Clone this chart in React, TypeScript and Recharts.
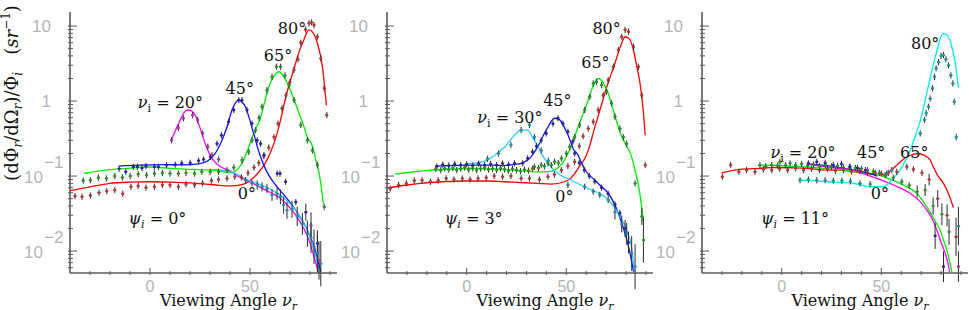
import React from 'react';
import { ComposedChart, Line, Scatter, XAxis, YAxis, ErrorBar } from 'recharts';

// [viewing angle, value] for curves, [viewing angle, value, rel. error] for measured points

// psi_i = 0
const p1RedLine = [[-41, 0.063], [-30, 0.072], [-20, 0.08], [-10, 0.083], [0, 0.084], [10, 0.083], [20, 0.081], [28, 0.078], [33, 0.076], [40, 0.074], [46, 0.077], [50, 0.087], [54, 0.11], [57, 0.14], [60, 0.2], [63, 0.33], [65.3, 0.56], [67, 0.9], [69.4, 1.6], [72, 2.7], [74.4, 4.4], [77, 6.6], [79.4, 8.9], [81.5, 8.2], [83.7, 5.9], [86.2, 2.9], [88.2, 0.88]];
const p1RedPts = [[-37.5, 0.054], [-34, 0.053], [-29.8, 0.055], [-25.5, 0.06], [-21.6, 0.063], [-17.6, 0.065], [-13.6, 0.058], [-9.5, 0.072], [-5.9, 0.074], [-2, 0.07], [2.2, 0.072], [6.2, 0.076], [10, 0.076], [14.2, 0.072], [18, 0.078], [22.3, 0.076], [26.3, 0.08], [30.7, 0.087], [34.3, 0.09], [38.5, 0.093], [42.4, 0.098], [45.7, 0.096], [49, 0.11], [52, 0.13], [54.4, 0.15], [56.9, 0.185], [59.4, 0.24], [62, 0.33], [64, 0.5], [66, 0.8], [68, 1.2], [70, 1.8], [72, 2.6], [74, 3.6], [75.4, 6], [77.8, 9], [79.5, 10.9], [80.8, 11.2], [82, 10.3], [83.7, 7.2], [85.4, 3.7], [87.1, 1.48], [88.4, 0.65]];
const p1GreenLine = [[-33, 0.109], [-20, 0.122], [-10, 0.128], [0, 0.132], [10, 0.127], [20, 0.123], [30, 0.12], [36, 0.115], [40, 0.11], [43, 0.118], [46, 0.148], [49.4, 0.246], [52, 0.38], [55.3, 0.6], [57, 0.9], [59.4, 1.55], [62, 2.15], [64.5, 2.46], [67, 2.1], [69.5, 1.55], [72, 1.05], [74.5, 0.69], [76.5, 0.5], [78.7, 0.33], [81.2, 0.25], [83, 0.16], [84.6, 0.108], [86.7, 0.043]];
const p1GreenPts = [[-33.4, 0.087], [-29.8, 0.088], [-25.8, 0.095], [-21.8, 0.093], [-17.6, 0.1], [-13.8, 0.096], [-9.9, 0.1], [-5.9, 0.106], [-1.7, 0.103], [2.2, 0.108], [6.2, 0.11], [10, 0.108], [14.2, 0.108], [18, 0.11], [22.3, 0.108], [25.9, 0.114], [30.1, 0.114], [34.3, 0.114], [38.5, 0.12], [41.9, 0.13], [46, 0.163], [49.4, 0.21], [51, 0.3], [52.8, 0.41], [54.5, 0.6], [56, 0.84], [58.5, 1.4], [61, 2.1], [63.2, 2.87], [65.3, 2.87], [67.5, 2.2], [69.5, 1.63], [72, 1.03], [75.4, 0.48], [78.7, 0.3], [81.2, 0.22], [83.7, 0.14], [87.1, 0.039]];
const p1BlueLine = [[-15.6, 0.136], [-5, 0.14], [7.5, 0.142], [15.9, 0.141], [24.3, 0.145], [29.3, 0.163], [32.6, 0.2], [36, 0.3], [38.5, 0.45], [41, 0.76], [43, 0.97], [44.4, 1.03], [46, 0.97], [47.7, 0.84], [49.4, 0.62], [51, 0.44], [52.5, 0.32], [54, 0.23], [56, 0.16], [58, 0.12], [62.8, 0.076], [67.8, 0.053], [72.9, 0.035], [77.9, 0.021], [82.1, 0.0114], [85.4, 0.0053]];
const p1BluePts = [[-15.4, 0.125], [-12.1, 0.114], [-8.3, 0.133], [-6.3, 0.133], [-4, 0.128], [-2, 0.136], [2.2, 0.133], [4.2, 0.133], [8.3, 0.14], [12.6, 0.142], [15.9, 0.148], [20.1, 0.15], [24.3, 0.16], [26.8, 0.167], [30.2, 0.18], [33.5, 0.27], [35.7, 0.35], [39.3, 0.53], [41.9, 0.76], [44.4, 1.03], [46, 1.03], [48.5, 0.76], [51, 0.5], [53.6, 0.3], [55.3, 0.27], [57, 0.19], [63.6, 0.108], [65, 0.108], [67.8, 0.084], [72.9, 0.045], [77.9, 0.033, 0.3], [83.7, 0.0126, 0.5]];
const p1MagLine = [[10.8, 0.31], [13, 0.42], [15.1, 0.56], [17, 0.7], [19.2, 0.76], [21, 0.73], [22.6, 0.65], [24.3, 0.5], [25.9, 0.37], [27.6, 0.27], [29.3, 0.21], [31, 0.172], [35.2, 0.133], [39.3, 0.12], [44.4, 0.098], [49.4, 0.085], [57.8, 0.065], [66.1, 0.048], [74.5, 0.026], [79.5, 0.014], [82.9, 0.0069], [84.5, 0.0048]];
const p1MagPts = [[10.8, 0.3], [14.2, 0.44], [16.7, 0.59], [21.3, 0.65], [23.8, 0.56], [26.3, 0.37], [28.9, 0.246], [31, 0.19], [34.3, 0.167], [80.5, 0.022, 0.5], [84.5, 0.0075, 0.8]];
const p1CyanLine = [[30.2, 0.123], [36, 0.12], [42.7, 0.108], [49.4, 0.088], [57.8, 0.072], [66.1, 0.053], [72.9, 0.035], [77.9, 0.021], [81.2, 0.0126], [83.7, 0.0069], [85, 0.0048]];
const p1CyanPts = [[47.7, 0.088], [51, 0.08], [53.6, 0.076, 0.15], [56, 0.072, 0.15], [58.5, 0.068, 0.15], [61, 0.056, 0.2], [63.5, 0.058, 0.2], [65.2, 0.053, 0.25], [66.8, 0.041, 0.3], [68.5, 0.035, 0.3], [71, 0.036, 0.3], [73.6, 0.029, 0.35], [76.2, 0.023, 0.4], [78.7, 0.017, 0.5], [80.5, 0.015, 0.6], [82, 0.0114, 0.7], [83.7, 0.0093, 0.8], [85.4, 0.0068, 1]];
const p1Notes = [[71, 9.4, '', '80°'], [64, 4.1, '', '65°'], [44.9, 1.49, '', '45°'], [10.2, 0.97, 'ν', '20°'], [48.4, 0.059, '', '0°'], [3.7, 0.0275, 'ψ', '0°']];

// psi_i = 3
const p2RedLine = [[-40, 0.069], [-30, 0.076], [-23.2, 0.08], [-12, 0.084], [-1.4, 0.086], [10, 0.086], [18.8, 0.084], [27, 0.082], [35.7, 0.08], [42.4, 0.078], [49.1, 0.084], [51.5, 0.09], [54.2, 0.108], [57, 0.14], [59.2, 0.17], [61, 0.22], [64.3, 0.45], [66.5, 0.7], [69.3, 1.27], [72, 2.1], [74.4, 3.2], [77, 5.2], [79.5, 7.2], [81.5, 6.8], [83.7, 4.8], [85.5, 2.8], [87, 1.72], [88.5, 0.8], [89.6, 0.35]];
const p2RedPts = [[-38.4, 0.068], [-34.2, 0.076], [-30.3, 0.08], [-26.3, 0.087], [-22.4, 0.088], [-18.2, 0.084], [-14.3, 0.088], [-10.3, 0.093], [-6.4, 0.09], [-2.2, 0.093], [1.7, 0.09], [5.7, 0.093], [9.8, 0.095], [13.8, 0.1], [18, 0.098], [22.2, 0.1], [27.3, 0.093], [31.5, 0.093], [36.5, 0.09], [40.8, 0.098], [44, 0.105], [47.5, 0.12], [50.8, 0.136], [54.2, 0.155], [56.5, 0.25], [58.4, 0.34], [61, 0.43], [63.5, 0.53], [66, 0.76], [68.5, 1.2], [71, 1.9], [73.6, 2.87], [76.1, 4.8], [77.8, 7.2], [79.5, 8.9], [81.2, 8.4], [83.7, 5.3], [86.2, 2.87], [87.9, 1.2], [89.6, 0.14]];
const p2GreenLine = [[-35.9, 0.106], [-25, 0.115], [-18.2, 0.12], [-8, 0.124], [2, 0.127], [10, 0.125], [18.8, 0.123], [27, 0.118], [35.7, 0.114], [40, 0.114], [44, 0.12], [47, 0.138], [49.1, 0.163], [50.8, 0.2], [52.5, 0.25], [55.9, 0.45], [58.5, 0.68], [61, 1.03], [63.5, 1.6], [66, 2.0], [68.5, 1.75], [71, 1.27], [73, 0.85], [75, 0.56], [78, 0.33], [80.3, 0.25], [82.5, 0.19], [84.5, 0.12], [86.2, 0.075], [87.5, 0.045], [88.7, 0.024]];
const p2GreenPts = [[-15.5, 0.124], [-13, 0.12], [-11, 0.126], [-9, 0.122], [-7, 0.128], [-5, 0.12], [-3, 0.125], [-1, 0.13], [1, 0.122], [3, 0.127], [5, 0.12], [7, 0.126], [9, 0.13], [11, 0.122], [13, 0.125], [15, 0.12], [17, 0.127], [19, 0.123], [21, 0.118], [23, 0.125], [25, 0.12], [27, 0.116], [29, 0.122], [31, 0.118], [33, 0.125], [34, 0.133], [36, 0.128], [37.4, 0.14], [39, 0.135], [40.8, 0.148], [42.5, 0.14], [44.1, 0.155], [46, 0.15], [47.5, 0.172], [50, 0.2], [51.7, 0.246], [54.2, 0.33], [56.7, 0.48], [59.2, 0.76], [61.8, 1.14], [63.5, 1.72], [65.2, 1.8], [67.7, 1.63], [70.2, 1.33], [72.7, 0.93], [74.4, 0.62], [76.9, 0.43], [78.6, 0.33], [80.3, 0.27], [84.5, 0.08], [87.9, 0.029, 0.3], [88.7, 0.014, 1]];
const p2BlueLine = [[-15.7, 0.136], [-5, 0.139], [2, 0.14], [13.8, 0.14], [18.8, 0.138], [24, 0.143], [27.3, 0.148], [30, 0.16], [32.3, 0.18], [34.5, 0.22], [36.5, 0.27], [38.5, 0.35], [40.8, 0.45], [42.5, 0.54], [44.1, 0.59], [46, 0.58], [47.5, 0.53], [49.5, 0.42], [51.7, 0.31], [53.5, 0.23], [55.9, 0.19], [57.6, 0.15], [60, 0.115], [64.3, 0.088], [67.5, 0.073], [71, 0.059], [76.1, 0.032], [79.5, 0.017], [82, 0.0093], [83.7, 0.0053]];
const p2BluePts = [[-15, 0.135], [-12, 0.142], [-9, 0.138], [-6, 0.145], [-3, 0.14], [0, 0.144], [3, 0.138], [6, 0.146], [9, 0.14], [12, 0.145], [15, 0.14], [18, 0.147], [21, 0.142], [24, 0.148], [28.1, 0.148], [30.6, 0.172], [33, 0.21], [35, 0.25], [37.4, 0.3], [39.9, 0.37], [43.3, 0.5], [45.8, 0.59], [48.3, 0.5], [50.8, 0.39], [53.3, 0.29], [54.2, 0.2], [56.5, 0.15], [59, 0.12], [61.5, 0.1], [64.3, 0.085], [67.7, 0.07], [71, 0.058], [74.4, 0.042], [76.9, 0.032], [79.5, 0.02, 0.3], [81.2, 0.013, 0.4]];
const p2CyanLine = [[0, 0.145], [5, 0.15], [10.4, 0.163], [14, 0.19], [18.8, 0.24], [23.1, 0.33], [27.3, 0.41], [30.6, 0.41], [33, 0.33], [35.7, 0.25], [38, 0.19], [40.8, 0.148], [45.8, 0.108], [52.5, 0.088], [61, 0.068], [69.3, 0.053], [76.1, 0.032], [80.3, 0.019], [82.8, 0.011], [84.3, 0.005]];
const p2CyanPts = [[10.4, 0.17], [16, 0.2], [22.2, 0.26], [27.3, 0.41], [31.5, 0.48], [34, 0.33], [37.4, 0.22], [41, 0.16], [50.8, 0.076], [59.2, 0.072], [63.5, 0.062], [66.8, 0.056], [71, 0.048], [74.4, 0.033, 0.25], [77.8, 0.023, 0.3], [80.3, 0.017, 0.4], [82.8, 0.0093, 0.7], [84.5, 0.0062, 1]];
const p2Notes = [[70.2, 9.4, '', '80°'], [64.6, 3.3, '', '65°'], [45.5, 1.03, '', '45°'], [21.7, 0.61, 'ν', '30°'], [49, 0.054, '', '0°'], [3.5, 0.0275, 'ψ', '3°']];

// psi_i = 11
const p3CyanLine = [[9.2, 0.088], [15, 0.087], [22.6, 0.084], [30, 0.082], [36, 0.08], [44.4, 0.072], [51.1, 0.072], [54.4, 0.084], [57, 0.1], [59.4, 0.12], [62, 0.16], [64.5, 0.22], [67.5, 0.37], [70, 0.6], [72, 1.03], [75, 2.3], [78, 4.8], [81, 8], [83, 7.6], [85.4, 5.3], [87.1, 3.2], [88.7, 1.5]];
const p3CyanPts = [[9.2, 0.088], [13.4, 0.09], [17.6, 0.088], [21.8, 0.088], [25.9, 0.087], [30.2, 0.087], [34.5, 0.085], [39.3, 0.08], [44.4, 0.078], [52.7, 0.108], [55.3, 0.12], [69.5, 0.37], [71.7, 0.56], [72.5, 0.69], [73.7, 0.84], [74.5, 1.08], [75.7, 1.48], [76.7, 2.1], [77.5, 2.73], [78.7, 3.3], [80, 4], [81.2, 4.1], [82.4, 3.6], [83.7, 3], [84.9, 2.2], [85.9, 1.72], [86.6, 0.98], [87.6, 0.33], [88.7, 0.0215, 0.8]];
const p3RedLine = [[-30.2, 0.11], [-21, 0.123], [-10.9, 0.127], [-4.2, 0.13], [5, 0.129], [12.6, 0.127], [22.6, 0.12], [29.3, 0.12], [38, 0.112], [46, 0.106], [50, 0.104], [52.8, 0.108], [55, 0.12], [57.8, 0.14], [60.5, 0.163], [62.8, 0.18], [66, 0.195], [68.5, 0.2], [71.2, 0.19], [74.5, 0.163], [76.2, 0.13], [78.5, 0.1], [81.2, 0.08], [83.5, 0.06], [86.2, 0.038]];
const p3RedPts = [[-29.8, 0.098], [-25.6, 0.14], [-21.5, 0.114], [-17.6, 0.12], [-13.4, 0.114], [-9.2, 0.123], [-5, 0.12], [-1, 0.125], [3, 0.12], [7, 0.127], [11, 0.12], [15, 0.125], [19, 0.12], [23, 0.124], [27, 0.118], [31, 0.12], [35, 0.115], [39, 0.118], [43, 0.112], [47, 0.11], [50, 0.108], [53.5, 0.11], [57.8, 0.114], [62.8, 0.133], [66.1, 0.123], [70.4, 0.11], [74, 0.09, 0.2], [78.3, 0.05, 0.3], [83, 0.03, 0.4], [87.5, 0.0155, 0.8]];
const p3GreenLine = [[-11.8, 0.14], [-5, 0.139], [4.2, 0.136], [12, 0.132], [20.9, 0.127], [30, 0.12], [37.7, 0.114], [44, 0.108], [49.4, 0.103], [54, 0.092], [59.4, 0.08], [63.5, 0.07], [67.8, 0.059], [71, 0.046], [74.5, 0.033], [77, 0.025], [79.5, 0.019], [81.2, 0.014], [82.9, 0.0103], [84.2, 0.0075], [85.4, 0.0053]];
const p3GreenPts = [[-10.9, 0.14], [-8, 0.135], [-5, 0.14], [-2, 0.138], [-0.9, 0.155], [2, 0.14], [4.2, 0.148], [7, 0.14], [10, 0.145], [13, 0.138], [16, 0.142], [19, 0.136], [22, 0.14], [25, 0.134], [28, 0.137], [31, 0.13], [34, 0.132], [37, 0.128], [40, 0.125], [43, 0.12], [46, 0.115], [49, 0.11], [51.9, 0.103], [56, 0.095], [60.3, 0.084], [64, 0.075], [68, 0.062, 0.2], [72, 0.065, 0.2], [76, 0.04, 0.3], [80.4, 0.031, 0.4], [84, 0.018, 0.5]];
const p3BlueLine = [[13.4, 0.145], [20, 0.14], [25, 0.135], [31, 0.127], [38, 0.118], [44.4, 0.108], [48, 0.1]];
const p3BluePts = [[13.4, 0.148], [17.6, 0.155], [21.8, 0.15], [25.9, 0.14], [30, 0.145], [34.3, 0.133], [38, 0.128], [42, 0.12], [77, 0.016, 0.5], [81.2, 0.0062, 0.6]];
const p3MagLine = [[13.4, 0.143], [25, 0.13], [36, 0.12], [42, 0.105], [47.7, 0.093], [56.1, 0.076], [64.4, 0.059], [69, 0.047], [72.9, 0.035], [75.5, 0.027], [77.9, 0.019], [80, 0.013], [82.1, 0.0093], [83.5, 0.0068], [84.3, 0.0052]];
const p3MagPts = [[88.7, 0.0062, 0.6]];
const p3Notes = [[72, 5.9, '', '80°'], [10.7, 0.209, 'ν', '20°'], [44.9, 0.209, '', '45°'], [66.5, 0.209, '', '65°'], [49.3, 0.059, '', '0°'], [6.7, 0.0275, 'ψ', '11°']];

const xTicks = [-30, -20, -10, 0, 10, 20, 30, 40, 50, 60, 70, 80, 90];
const xLabeled = [0, 50];
const yTicks = [0.006, 0.007, 0.008, 0.009, 0.01, 0.02, 0.03, 0.04, 0.05, 0.06, 0.07, 0.08, 0.09, 0.1, 0.2, 0.3, 0.4, 0.5, 0.6, 0.7, 0.8, 0.9, 1, 2, 3, 4, 5, 6, 7, 8, 9, 10];
const yLabeled = [0.01, 0.1, 1, 10];

const X_DOMAIN = [-40, 93.5];
const Y_DOMAIN = [0.0051, 15.4];
const SERIF = "'DejaVu Serif', serif";
const SANS = "'Liberation Sans', Arial, sans-serif";
const FRAME = '#5a5a5a';
const TICK_TXT = '#b4b4b4';

const RED = '#ff0000';
const GREEN = '#00ee00';
const BLUE = '#1010ff';
const MAGENTA = '#ff00ff';
const SKY = '#30ccff';
const CYAN = '#00eeee';

const serifStyle = { fontFamily: SERIF };

const toLine = (arr) => arr.map(([x, y]) => ({ x, y }));
const toPts = (arr) =>
  arr.map(([x, y, r = 0.1]) => ({ x, y, ey: [y - y / (1 + r), y * r], ex: 0.8 }));
const toNotes = (arr) => arr.map(([x, y, sym, t]) => ({ x, y, sym, t }));

function YTick(props) {
  const { x, y, payload } = props;
  const v = payload.value;
  const major = yLabeled.includes(v);
  const exp = Math.round(Math.log10(v));
  const txt = { fontSize: 17, fill: TICK_TXT, style: { fontFamily: SANS } };
  return (
    <g>
      <line x1={x} x2={x + (major ? 9 : 5)} y1={y} y2={y} stroke={FRAME} strokeWidth={1} />
      {major && exp >= 0 && (
        <text x={x - 17} y={y + 6} textAnchor="end" {...txt}>{v}</text>
      )}
      {major && exp < 0 && (
        <g>
          <text x={x - 25} y={y + 7} textAnchor="end" {...txt}>10</text>
          <text x={x - 24} y={y - 8} textAnchor="start" {...txt}>{'\u2212' + -exp}</text>
        </g>
      )}
    </g>
  );
}

function XTick(props) {
  const { x, y, payload } = props;
  const major = xLabeled.includes(payload.value);
  return (
    <g>
      <line x1={x} x2={x} y1={y} y2={y - (major ? 7 : 4)} stroke={FRAME} strokeWidth={1} />
      {major && (
        <text x={x} y={y + 17} textAnchor="middle" fontSize={16} fill={TICK_TXT} style={{ fontFamily: SANS }}>
          {payload.value}
        </text>
      )}
    </g>
  );
}

function XTitle(props) {
  const vb = props.viewBox || {};
  return (
    <text x={vb.x + vb.width / 2 + 25} y={vb.y + 33} textAnchor="middle" fontSize={16} fill="#111" style={serifStyle}>
      Viewing Angle <tspan fontStyle="italic">ν</tspan>
      <tspan fontStyle="italic" fontSize={11} dy={4}>r</tspan>
    </text>
  );
}

function YTitle(props) {
  const vb = props.viewBox || {};
  const cx = vb.x + 18;
  const cy = 93;
  return (
    <text x={cx} y={cy} transform={`rotate(-90 ${cx} ${cy})`} textAnchor="middle" fontSize={18} fill="#111" style={serifStyle}>
      (dΦ<tspan fontStyle="italic" fontSize={12} dy={4}>r</tspan>
      <tspan dy={-4}>/dΩ</tspan>
      <tspan fontStyle="italic" fontSize={12} dy={4}>r</tspan>
      <tspan dy={-4}>)/Φ</tspan>
      <tspan fontStyle="italic" fontSize={12} dy={4}>i</tspan>
      <tspan dy={-4}>{'\u00a0\u00a0\u00a0('}</tspan>
      <tspan fontStyle="italic">sr</tspan>
      <tspan fontSize={12} dy={-8}>{'\u22121'}</tspan>
      <tspan dy={8}>)</tspan>
    </text>
  );
}

function NoteShape(props) {
  const { cx, cy, payload } = props;
  const base = { x: cx, y: cy + 6, textAnchor: 'middle', fontSize: 16, fill: '#111', style: serifStyle };
  if (!payload.sym) return <text {...base}>{payload.t}</text>;
  const subItalic = payload.sym === 'ψ';
  return (
    <text {...base}>
      <tspan fontStyle="italic">{payload.sym}</tspan>
      <tspan fontSize={11} dy={4} fontStyle={subItalic ? 'italic' : 'normal'}>i</tspan>
      <tspan dy={-4}>{' = ' + payload.t}</tspan>
    </text>
  );
}

function Panel({ left, width, yW, right, series, notes, yTitle }) {
  return (
    <div style={{ position: 'absolute', left, top: 0 }}>
      <ComposedChart width={width} height={310} margin={{ top: 12, right, bottom: 0, left: 0 }}>
        <XAxis
          xAxisId="b"
          type="number"
          dataKey="x"
          domain={X_DOMAIN}
          allowDataOverflow
          ticks={xTicks}
          interval={0}
          tick={<XTick />}
          tickSize={0}
          tickLine={false}
          height={37}
          axisLine={{ stroke: FRAME, strokeWidth: 1.6 }}
          label={XTitle}
        />
        <XAxis
          xAxisId="t"
          orientation="top"
          type="number"
          domain={X_DOMAIN}
          allowDataOverflow
          tick={false}
          tickLine={false}
          height={0}
          axisLine={{ stroke: FRAME, strokeWidth: 1.6 }}
        />
        <YAxis
          yAxisId="l"
          type="number"
          scale="log"
          domain={Y_DOMAIN}
          allowDataOverflow
          ticks={yTicks}
          interval={0}
          tick={<YTick />}
          tickSize={0}
          tickLine={false}
          width={yW}
          axisLine={{ stroke: FRAME, strokeWidth: 1.6 }}
          label={yTitle ? YTitle : undefined}
        />
        <YAxis
          yAxisId="r"
          orientation="right"
          type="number"
          domain={[0, 1]}
          tick={false}
          tickLine={false}
          width={0}
          axisLine={{ stroke: FRAME, strokeWidth: 1.6 }}
        />
        {series.map((s, i) => (
          <Line
            key={'l' + i}
            xAxisId="b"
            yAxisId="l"
            data={toLine(s.line)}
            dataKey="y"
            type="monotone"
            stroke={s.color}
            strokeWidth={1.3}
            dot={false}
            isAnimationActive={false}
          />
        ))}
        {series.map((s, i) => (
          <Scatter
            key={'p' + i}
            xAxisId="b"
            yAxisId="l"
            data={toPts(s.pts)}
            dataKey="y"
            fill={s.dot}
            isAnimationActive={false}
            shape={(p) => <rect x={p.cx - 1.2} y={p.cy - 1.2} width={2.4} height={2.4} fill={s.dot} />}
          >
            <ErrorBar dataKey="ey" direction="y" width={0} stroke="#2a2a2a" strokeWidth={1} isAnimationActive={false} />
            <ErrorBar dataKey="ex" direction="x" width={0} stroke="#2a2a2a" strokeWidth={1} isAnimationActive={false} />
          </Scatter>
        ))}
        <Scatter xAxisId="b" yAxisId="l" data={toNotes(notes)} dataKey="y" shape={NoteShape} isAnimationActive={false} />
      </ComposedChart>
    </div>
  );
}

const panel1 = [
  { color: RED, dot: '#c03030', line: p1RedLine, pts: p1RedPts },
  { color: GREEN, dot: '#209a20', line: p1GreenLine, pts: p1GreenPts },
  { color: BLUE, dot: '#2020b0', line: p1BlueLine, pts: p1BluePts },
  { color: MAGENTA, dot: '#b030b0', line: p1MagLine, pts: p1MagPts },
  { color: SKY, dot: '#2090b0', line: p1CyanLine, pts: p1CyanPts },
];
const panel2 = [
  { color: RED, dot: '#c03030', line: p2RedLine, pts: p2RedPts },
  { color: GREEN, dot: '#209a20', line: p2GreenLine, pts: p2GreenPts },
  { color: BLUE, dot: '#2020b0', line: p2BlueLine, pts: p2BluePts },
  { color: SKY, dot: '#2090b0', line: p2CyanLine, pts: p2CyanPts },
];
const panel3 = [
  { color: RED, dot: '#c03030', line: p3RedLine, pts: p3RedPts },
  { color: GREEN, dot: '#209a20', line: p3GreenLine, pts: p3GreenPts },
  { color: BLUE, dot: '#2020b0', line: p3BlueLine, pts: p3BluePts },
  { color: MAGENTA, dot: '#b030b0', line: p3MagLine, pts: p3MagPts },
  { color: CYAN, dot: '#109a9a', line: p3CyanLine, pts: p3CyanPts },
];

export default function App() {
  return (
    <div style={{ position: 'absolute', left: 0, top: 0, width: 969, height: 310, background: '#fff', overflow: 'hidden' }}>
      <Panel left={0} width={339} yW={70} right={2} series={panel1} notes={p1Notes} yTitle />
      <Panel left={339} width={316} yW={48} right={2} series={panel2} notes={p2Notes} />
      <Panel left={655} width={314} yW={47} right={1} series={panel3} notes={p3Notes} />
    </div>
  );
}
